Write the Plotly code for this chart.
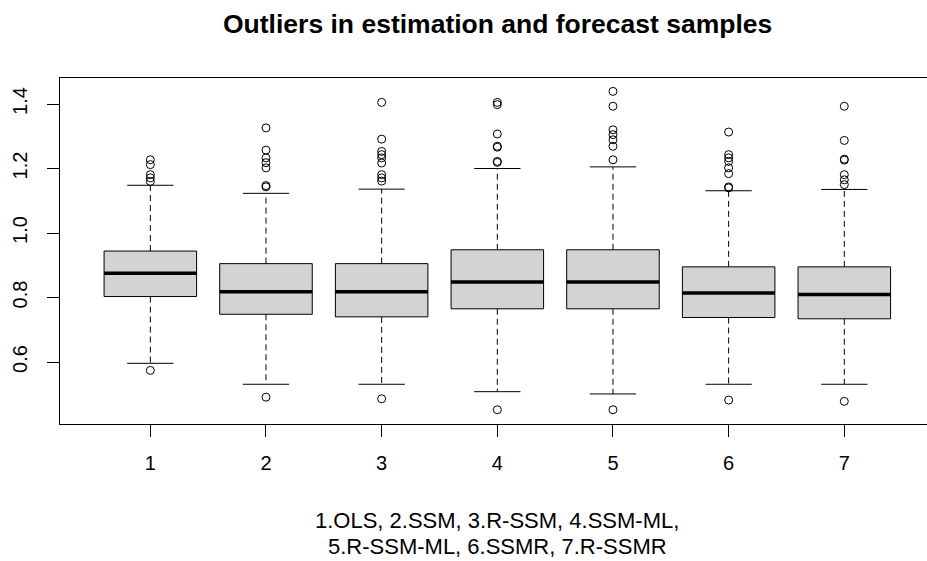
import plotly.graph_objects as go

# Seven estimators compared on outlier-contaminated samples
groups = [1, 2, 3, 4, 5, 6, 7]
q1 = [0.803, 0.748, 0.740, 0.765, 0.765, 0.738, 0.734]
median = [0.875, 0.818, 0.818, 0.848, 0.848, 0.814, 0.809]
q3 = [0.944, 0.905, 0.905, 0.948, 0.948, 0.895, 0.895]
whisker_low = [0.596, 0.531, 0.531, 0.508, 0.501, 0.531, 0.531]
whisker_high = [1.148, 1.123, 1.136, 1.200, 1.205, 1.131, 1.135]
outliers = [
    [0.574, 1.227, 1.212, 1.181, 1.171, 1.160],
    [0.491, 1.326, 1.257, 1.233, 1.218, 1.202, 1.147, 1.143],
    [0.486, 1.405, 1.291, 1.253, 1.243, 1.233, 1.217, 1.181, 1.171, 1.161],
    [0.452, 1.405, 1.398, 1.307, 1.269, 1.266, 1.222, 1.219],
    [0.452, 1.439, 1.393, 1.320, 1.305, 1.289, 1.269, 1.227],
    [0.482, 1.313, 1.243, 1.233, 1.222, 1.202, 1.184, 1.143, 1.140],
    [0.478, 1.393, 1.287, 1.229, 1.226, 1.181, 1.165, 1.150],
]
y_ticks = [0.6, 0.8, 1.0, 1.2, 1.4]
y_tick_labels = ["0.6", "0.8", "1.0", "1.2", "1.4"]
title_text = "Outliers in estimation and forecast samples"
subtitle_lines = ["1.OLS, 2.SSM, 3.R-SSM, 4.SSM-ML,", "5.R-SSM-ML, 6.SSMR, 7.R-SSMR"]

FONT = "Liberation Sans, Arial, sans-serif"
BOX_HALF = 0.4
STAPLE_HALF = 0.2

fig = go.Figure()
shapes = []
for g, a, m, b, lo, hi in zip(groups, q1, median, q3, whisker_low, whisker_high):
    # dashed whiskers
    for y0, y1 in ((b, hi), (a, lo)):
        shapes.append(dict(type="line", xref="x", yref="y", x0=g, x1=g, y0=y0, y1=y1,
                           line=dict(color="black", width=1, dash="6px,4px")))
    # staples
    for yv in (lo, hi):
        shapes.append(dict(type="line", xref="x", yref="y", x0=g - STAPLE_HALF, x1=g + STAPLE_HALF,
                           y0=yv, y1=yv, line=dict(color="black", width=1)))
    # box
    shapes.append(dict(type="rect", xref="x", yref="y", x0=g - BOX_HALF, x1=g + BOX_HALF,
                       y0=a, y1=b, fillcolor="#D3D3D3", line=dict(color="black", width=1)))
    # median
    shapes.append(dict(type="line", xref="x", yref="y", x0=g - BOX_HALF, x1=g + BOX_HALF,
                       y0=m, y1=m, line=dict(color="black", width=3.5)))

ox, oy = [], []
for g, pts in zip(groups, outliers):
    ox += [g] * len(pts)
    oy += pts
fig.add_trace(go.Scatter(x=ox, y=oy, mode="markers",
                         marker=dict(symbol="circle-open", size=8, color="black",
                                     line=dict(width=1, color="black")),
                         showlegend=False, hoverinfo="y"))

annotations = [
    dict(text="<b>" + title_text + "</b>", xref="x", x=4, yref="paper", y=1, yshift=54,
         yanchor="middle", xanchor="center", showarrow=False,
         font=dict(family=FONT, size=26.5, color="black")),
    dict(text=subtitle_lines[0], xref="x", x=4, yref="paper", y=0, yshift=-96,
         yanchor="middle", xanchor="center", showarrow=False,
         font=dict(family=FONT, size=22, color="black")),
    dict(text=subtitle_lines[1], xref="x", x=4, yref="paper", y=0, yshift=-122,
         yanchor="middle", xanchor="center", showarrow=False,
         font=dict(family=FONT, size=22, color="black")),
]

fig.update_layout(
    width=927, height=561,
    margin=dict(l=60, r=0, t=78, b=137),
    paper_bgcolor="white", plot_bgcolor="white",
    shapes=shapes, annotations=annotations, showlegend=False,
    xaxis=dict(range=[0.219, 7.715], tickvals=groups, ticktext=[str(g) for g in groups],
               showgrid=False, zeroline=False, showline=True, linecolor="black", linewidth=1,
               mirror=True, ticks="outside", ticklen=12, tickcolor="black", tickwidth=1,
               ticklabelstandoff=9,
               tickfont=dict(family=FONT, size=20, color="black")),
    yaxis=dict(range=[0.4078, 1.4806], tickvals=y_ticks, ticktext=y_tick_labels,
               tickangle=-90, showgrid=False, zeroline=False, showline=True,
               linecolor="black", linewidth=1, mirror=False, ticks="outside", ticklen=12,
               tickcolor="black", tickwidth=1, ticklabelstandoff=12,
               tickfont=dict(family=FONT, size=20, color="black")),
)

fig.write_html("out.html")
